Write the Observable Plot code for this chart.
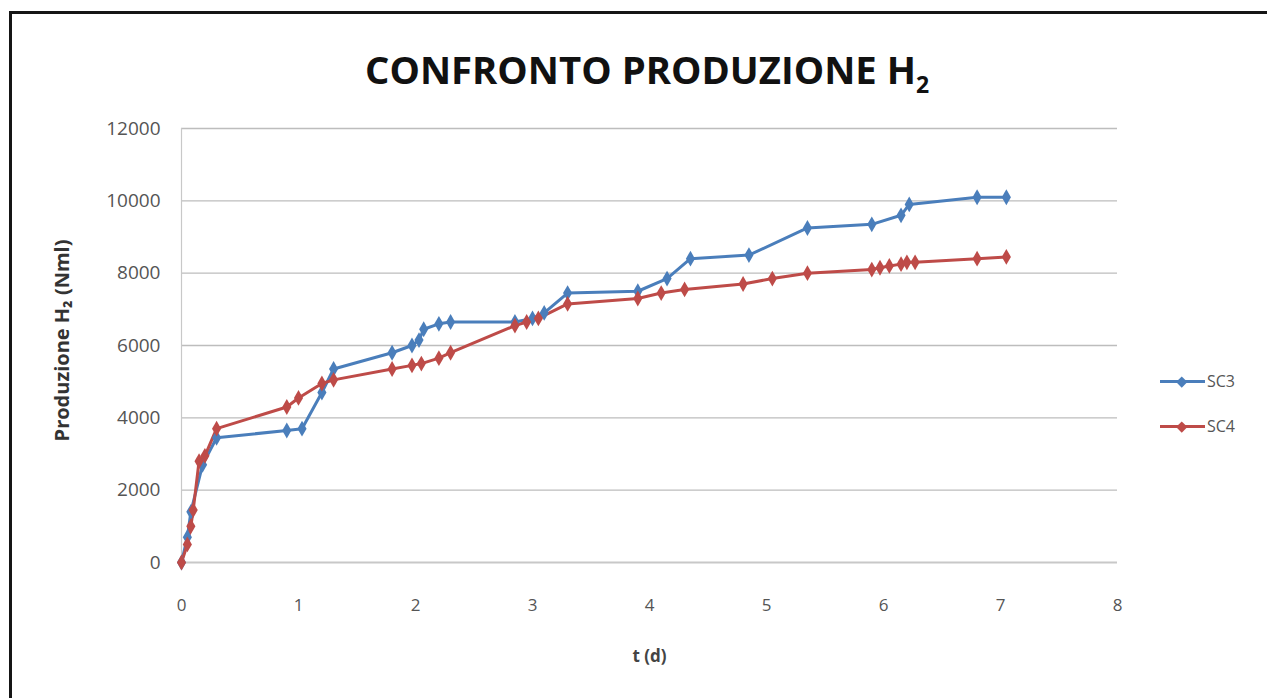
<!DOCTYPE html>
<html><head><meta charset="utf-8">
<script src="https://cdn.jsdelivr.net/npm/d3@7"></script>
<script src="https://cdn.jsdelivr.net/npm/@observablehq/plot@0.6"></script>
<style>
html,body{margin:0;padding:0;background:#fff;width:1267px;height:698px;overflow:hidden;font-family:"Open Sans",sans-serif;}
#frame{position:absolute;left:9px;top:11px;width:1300px;height:720px;border:3px solid #151515;box-sizing:border-box;}
#title{position:absolute;left:360px;top:40px;width:590px;height:62px;}
#chart{position:absolute;left:0;top:0;}
#legend{position:absolute;left:1160px;top:369px;font-size:16px;color:#555;}
.li{display:flex;align-items:center;height:24px;margin-bottom:21px;}
.sw{position:relative;width:45px;height:12px;margin-right:2px;}
.sw .ln{position:absolute;left:0;top:5px;width:45px;height:2.8px;}
.sw .mk{position:absolute;left:18px;top:2.5px;width:7.5px;height:7.5px;transform:rotate(45deg);}
</style></head>
<body>
<div id="frame"></div>
<div id="chart"></div>
<svg id="title" viewBox="0 0 590 62"><text x="5" y="44" font-family="Open Sans, sans-serif" font-weight="bold" font-size="38" fill="#111" textLength="551" lengthAdjust="spacingAndGlyphs">CONFRONTO PRODUZIONE H</text><text x="556" y="53" font-family="Open Sans, sans-serif" font-weight="bold" font-size="23" fill="#111">2</text></svg>
<div id="legend"></div>
<script>
const seriesNames = ["SC3", "SC4"];
const colors = ["#4a7ebb", "#be4b48"];
const tSC3 = [0, 0.05, 0.08, 0.18, 0.3, 0.9, 1.03, 1.2, 1.3, 1.8, 1.97, 2.03, 2.07, 2.2, 2.3, 2.85, 3.0, 3.1, 3.3, 3.9, 4.15, 4.35, 4.85, 5.35, 5.9, 6.15, 6.22, 6.8, 7.05];
const vSC3 = [0, 700, 1400, 2700, 3450, 3650, 3700, 4700, 5350, 5800, 6000, 6150, 6450, 6600, 6650, 6650, 6750, 6900, 7450, 7500, 7850, 8400, 8500, 9250, 9350, 9600, 9900, 10100, 10100];
const tSC4 = [0, 0.05, 0.08, 0.1, 0.15, 0.2, 0.3, 0.9, 1.0, 1.2, 1.3, 1.8, 1.97, 2.05, 2.2, 2.3, 2.85, 2.95, 3.05, 3.3, 3.9, 4.1, 4.3, 4.8, 5.05, 5.35, 5.9, 5.97, 6.05, 6.15, 6.2, 6.27, 6.8, 7.05];
const vSC4 = [0, 500, 1000, 1450, 2800, 2950, 3700, 4300, 4550, 4950, 5050, 5350, 5450, 5500, 5650, 5800, 6550, 6650, 6750, 7150, 7300, 7450, 7550, 7700, 7850, 8000, 8100, 8150, 8200, 8250, 8300, 8300, 8400, 8450];
const xTicks = [0, 1, 2, 3, 4, 5, 6, 7, 8];
const yTicks = [0, 2000, 4000, 6000, 8000, 10000, 12000];

const data = [
  ...tSC3.map((t, i) => ({t, v: vSC3[i], s: "SC3"})),
  ...tSC4.map((t, i) => ({t, v: vSC4[i], s: "SC4"}))
];

const chart = Plot.plot({
  width: 1267, height: 698,
  marginLeft: 181, marginRight: 150, marginTop: 128, marginBottom: 136,
  style: {fontFamily: '"Open Sans", sans-serif', fontSize: "18px", color: "#555", background: "transparent"},
  x: {domain: [0, 8], ticks: xTicks, tickSize: 0, tickPadding: 36, label: null},
  y: {domain: [0, 12000], ticks: yTicks, tickSize: 0, tickPadding: 21, label: null, tickFormat: d => String(d)},
  color: {domain: seriesNames, range: colors},
  marks: [
    Plot.ruleY(yTicks.filter(d => d > 0), {stroke: "#bdbdbd", strokeWidth: 1.3}),
    Plot.ruleY([0], {stroke: "#c8c8c8", strokeWidth: 1.8}),
    Plot.ruleX([0], {stroke: "#c8c8c8", strokeWidth: 1.2}),
    Plot.axisX({ticks: xTicks, tickSize: 0, tickPadding: 36, fill: "#555", fontSize: 17}),
    Plot.axisY({ticks: yTicks, tickSize: 0, tickPadding: 21, fill: "#555", fontSize: 19, tickFormat: d => String(d)}),
    Plot.line(data, {x: "t", y: "v", z: "s", stroke: "s", strokeWidth: 3}),
    Plot.dot(data, {x: "t", y: "v", fill: "s", symbol: "diamond", r: 4.8}),
    Plot.text(["t (d)"], {frameAnchor: "bottom", dy: 99, fontSize: 17, fontWeight: "bold", fill: "#444"}),
    Plot.text(["Produzione H₂ (Nml)"], {frameAnchor: "left", dx: -119, dy: -5, rotate: -90, textAnchor: "middle", fontSize: 20, fontWeight: "bold", fill: "#333"})
  ]
});
document.getElementById("chart").appendChild(chart);

const leg = document.getElementById("legend");
seriesNames.forEach((n, i) => {
  const d = document.createElement("div");
  d.className = "li";
  d.innerHTML = `<div class="sw"><div class="ln" style="background:${colors[i]}"></div><div class="mk" style="background:${colors[i]}"></div></div><span>${n}</span>`;
  leg.appendChild(d);
});
</script>
</body></html>
